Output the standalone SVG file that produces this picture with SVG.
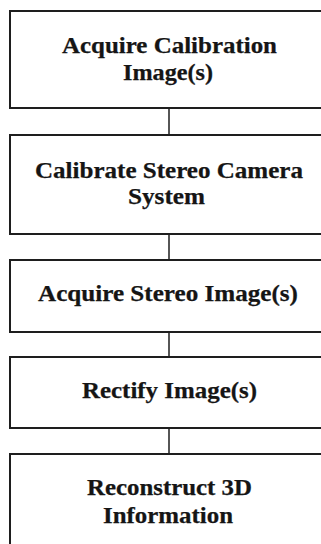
<svg xmlns="http://www.w3.org/2000/svg" width="321" height="544" viewBox="0 0 321 544">
  <style>
    .box { fill: #ffffff; stroke: #1e1e1e; stroke-width: 2; }
    .lbl { font-family: "Liberation Serif", "Times New Roman", Times, serif; font-weight: 700; font-size: 22.5px; fill: #151515; stroke: #151515; stroke-width: 0.25; }
    .conn { stroke: #1e1e1e; stroke-width: 1.5; fill: none; }
  </style>
  <rect width="321" height="544" fill="#ffffff"/>
  <g id="connectors">
    <line class="conn" x1="169" y1="108" x2="169" y2="135"/>
    <line class="conn" x1="169" y1="234" x2="169" y2="260"/>
    <line class="conn" x1="169" y1="332" x2="169" y2="357"/>
    <line class="conn" x1="169" y1="428" x2="169" y2="454"/>
  </g>
  <g id="node1">
    <rect class="box" x="10" y="11" width="330" height="97"/>
    <text class="lbl" x="62" y="53" textLength="215" lengthAdjust="spacingAndGlyphs">Acquire Calibration</text>
    <text class="lbl" x="123" y="80" textLength="90" lengthAdjust="spacingAndGlyphs">Image(s)</text>
  </g>
  <g id="node2">
    <rect class="box" x="10" y="135" width="330" height="99"/>
    <text class="lbl" x="35" y="178" textLength="268" lengthAdjust="spacingAndGlyphs">Calibrate Stereo Camera</text>
    <text class="lbl" x="128" y="204" textLength="77" lengthAdjust="spacingAndGlyphs">System</text>
  </g>
  <g id="node3">
    <rect class="box" x="10" y="260" width="330" height="72"/>
    <text class="lbl" x="38" y="301" textLength="260" lengthAdjust="spacingAndGlyphs">Acquire Stereo Image(s)</text>
  </g>
  <g id="node4">
    <rect class="box" x="10" y="357" width="330" height="71"/>
    <text class="lbl" x="82" y="398" textLength="175" lengthAdjust="spacingAndGlyphs">Rectify Image(s)</text>
  </g>
  <g id="node5">
    <rect class="box" x="10" y="454" width="330" height="110"/>
    <text class="lbl" x="87" y="495" textLength="165" lengthAdjust="spacingAndGlyphs">Reconstruct 3D</text>
    <text class="lbl" x="103" y="523" textLength="130" lengthAdjust="spacingAndGlyphs">Information</text>
  </g>
</svg>
